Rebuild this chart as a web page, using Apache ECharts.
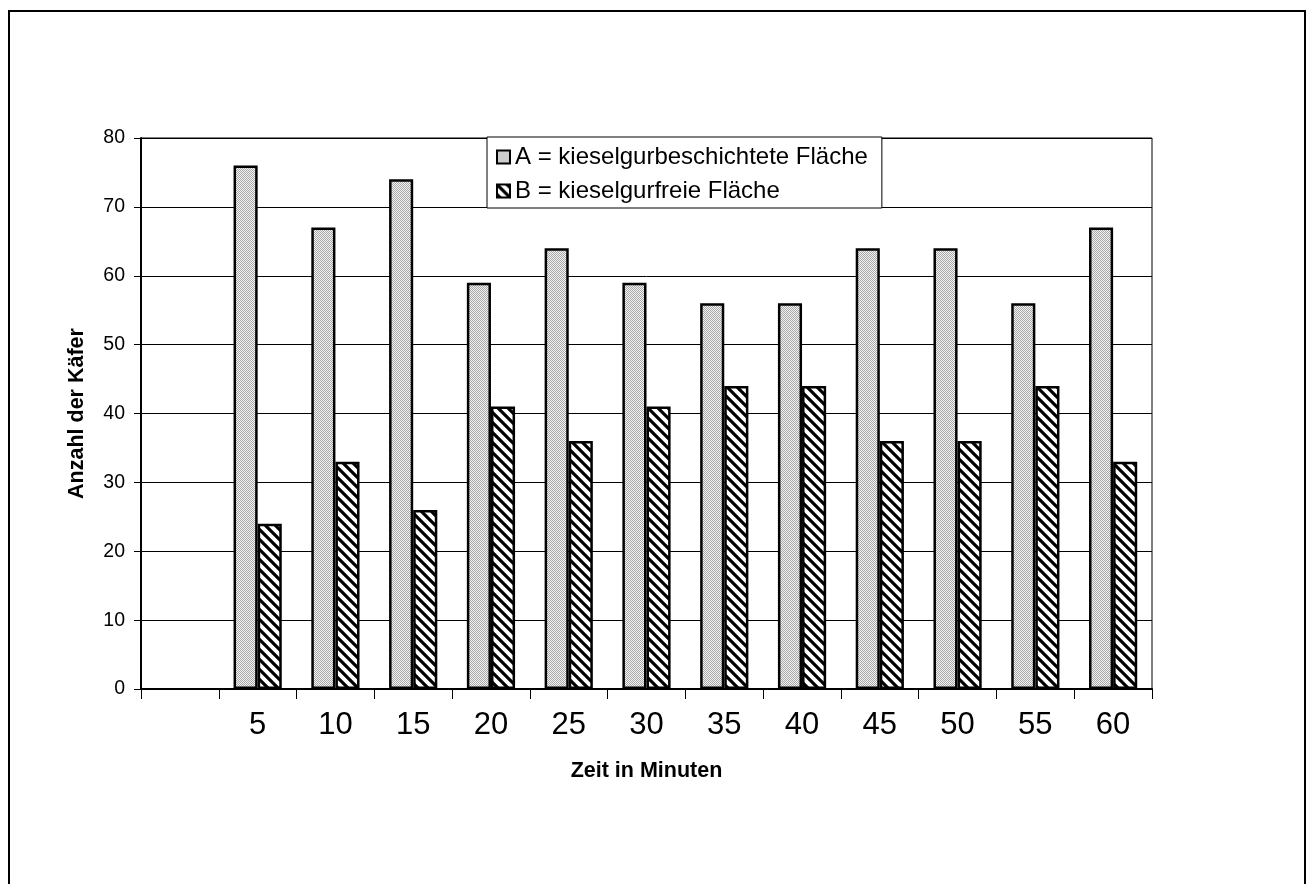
<!DOCTYPE html>
<html>
<head>
<meta charset="utf-8">
<script src="https://cdn.jsdelivr.net/npm/echarts@6/dist/echarts.min.js"></script>
<style>
html,body{margin:0;padding:0;background:#fff;}
#chart{width:1311px;height:884px;}
</style>
</head>
<body>
<div id="chart"></div>
<script>
const categories = ['', '5', '10', '15', '20', '25', '30', '35', '40', '45', '50', '55', '60'];
const seriesA = [null, 76, 67, 74, 59, 64, 59, 56, 56, 64, 64, 56, 67];
const seriesB = [null, 24, 33, 26, 41, 36, 41, 44, 44, 36, 36, 44, 33];
const nameA = 'A = kieselgurbeschichtete Fläche';
const nameB = 'B = kieselgurfreie Fläche';
const yTicks = { min: 0, max: 80, interval: 10 };
const xTitle = 'Zeit in Minuten';
const yTitle = 'Anzahl der Käfer';

const FONT = "'Liberation Sans', Arial, sans-serif";

function dotPattern() {
  const c = document.createElement('canvas');
  c.width = 2; c.height = 2;
  const g = c.getContext('2d');
  g.fillStyle = '#f2f2f2'; g.fillRect(0, 0, 2, 2);
  g.fillStyle = '#a8a8a8'; g.fillRect(0, 0, 1, 1); g.fillRect(1, 1, 1, 1);
  return c;
}
function hatchPattern() {
  const s = 10;
  const c = document.createElement('canvas');
  c.width = s; c.height = s;
  const g = c.getContext('2d');
  g.fillStyle = '#ffffff'; g.fillRect(0, 0, s, s);
  g.strokeStyle = '#000000'; g.lineWidth = 3.2;
  g.beginPath();
  g.moveTo(-2, -2); g.lineTo(s + 2, s + 2);
  g.moveTo(-2, s - 2); g.lineTo(2, s + 2);
  g.moveTo(s - 2, -2); g.lineTo(s + 2, 2);
  g.stroke();
  return c;
}

const chart = echarts.init(document.getElementById('chart'), null, { renderer: 'canvas' });
chart.setOption({
  animation: false,
  backgroundColor: '#ffffff',
  textStyle: { fontFamily: FONT, color: '#000' },
  graphic: [{
    type: 'rect', silent: true, z: 0,
    shape: { x: 9, y: 11, width: 1296, height: 900 },
    style: { fill: 'none', stroke: '#000', lineWidth: 2 }
  }],
  grid: {
    left: 141, top: 138, right: 159, bottom: 195,
    show: true, borderColor: '#000', borderWidth: 1, backgroundColor: 'transparent'
  },
  legend: {
    orient: 'vertical', left: 487, top: 137,
    padding: [8, 14, 5, 9], itemGap: 10,
    itemWidth: 13, itemHeight: 13, icon: 'rect',
    backgroundColor: '#fff', borderColor: '#000', borderWidth: 1,
    textStyle: { fontFamily: FONT, fontSize: 24, color: '#000' },
    data: [nameA, nameB]
  },
  xAxis: {
    type: 'category', data: categories,
    name: xTitle, nameLocation: 'middle', nameGap: 71,
    nameTextStyle: { fontFamily: FONT, fontSize: 21.5, fontWeight: 'bold', color: '#000' },
    axisLine: { show: true, lineStyle: { color: '#000', width: 2 } },
    axisTick: { show: true, length: 10, lineStyle: { color: '#000', width: 1 } },
    axisLabel: { fontFamily: FONT, fontSize: 31, color: '#000', margin: 21, interval: 0 },
    splitLine: { show: false }
  },
  yAxis: {
    type: 'value', min: yTicks.min, max: yTicks.max, interval: yTicks.interval,
    name: yTitle, nameLocation: 'middle', nameGap: 53, nameRotate: 90,
    nameTextStyle: { fontFamily: FONT, fontSize: 21.5, fontWeight: 'bold', color: '#000' },
    axisLine: { show: true, lineStyle: { color: '#000', width: 2 } },
    axisTick: { show: true, length: 7, lineStyle: { color: '#000', width: 1 } },
    axisLabel: { fontFamily: FONT, fontSize: 19.5, color: '#000', margin: 16 },
    splitLine: { show: true, lineStyle: { color: '#000', width: 1 } }
  },
  series: [
    {
      name: nameA, type: 'bar', data: seriesA,
      barGap: '0%', barCategoryGap: '38%',
      itemStyle: { color: { image: dotPattern(), repeat: 'repeat' }, borderColor: '#000', borderWidth: 2.5 }
    },
    {
      name: nameB, type: 'bar', data: seriesB,
      barGap: '0%', barCategoryGap: '38%',
      itemStyle: { color: { image: hatchPattern(), repeat: 'repeat' }, borderColor: '#000', borderWidth: 2.5 }
    }
  ]
});
</script>
</body>
</html>
